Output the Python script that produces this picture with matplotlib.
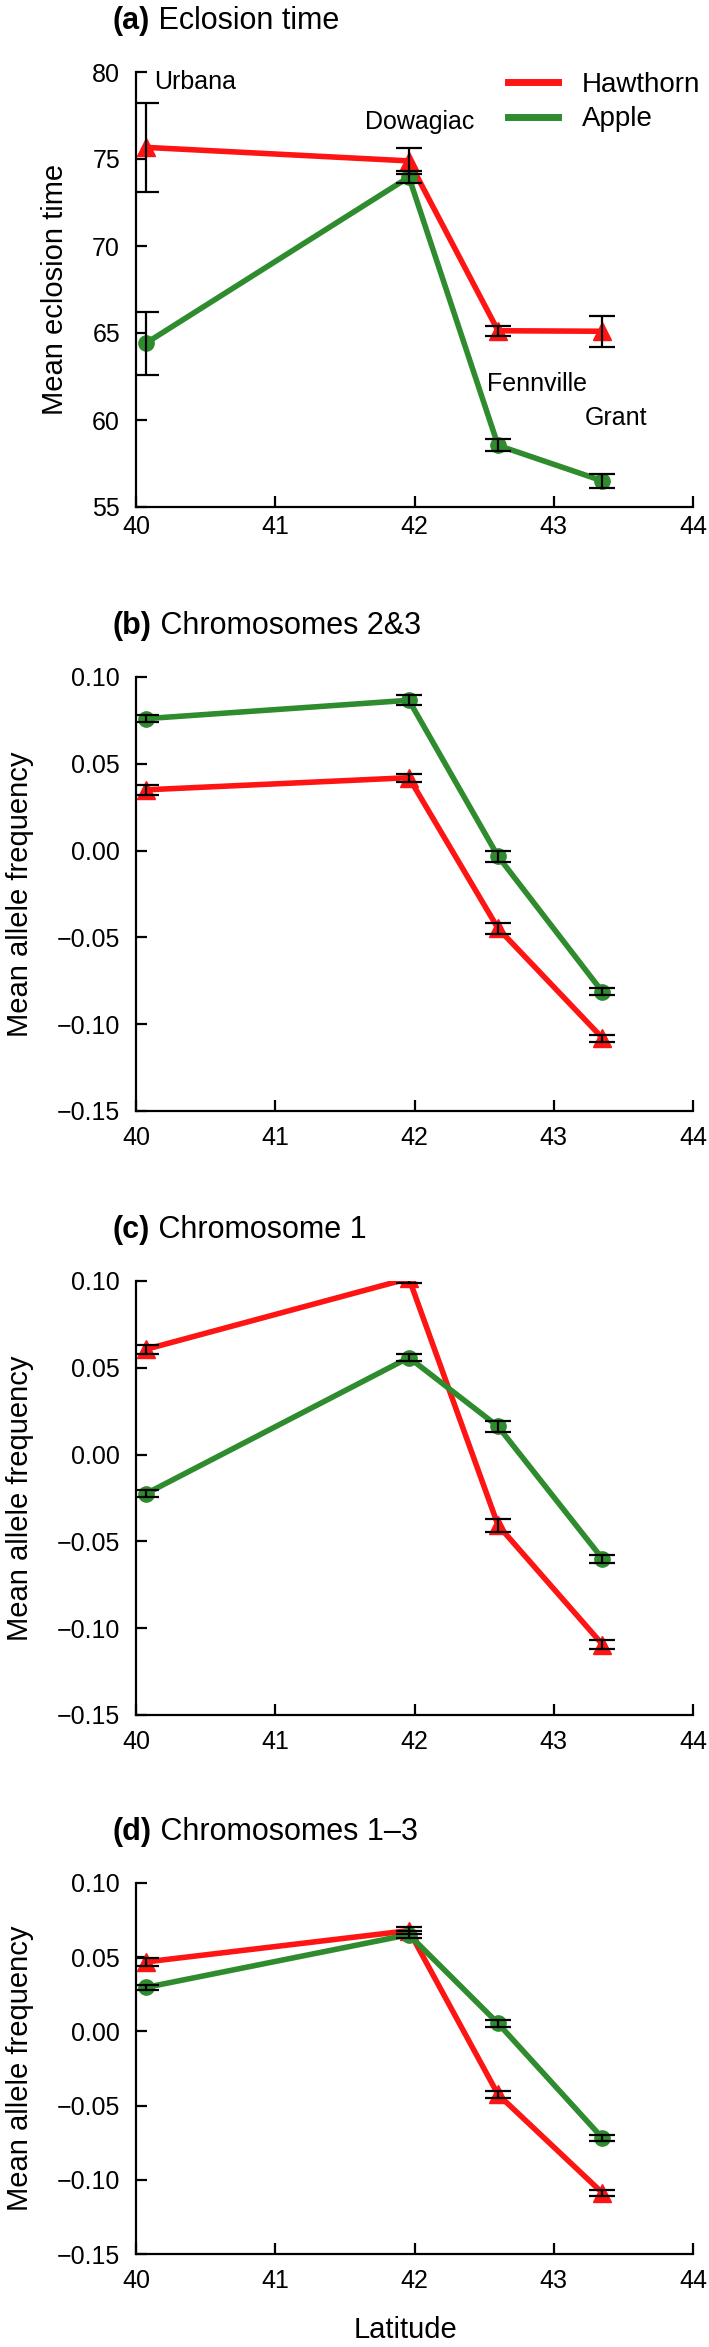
import matplotlib
matplotlib.use('Agg')
import matplotlib.pyplot as plt

plt.rcParams['font.family'] = ['Liberation Sans', 'DejaVu Sans']

# latitude of the four sites
lat = [40.07, 41.96, 42.60, 43.35]
sites = ['Urbana', 'Dowagiac', 'Fennville', 'Grant']

# (a) eclosion time
ecl_haw = [75.67, 74.89, 65.13, 65.10]
ecl_haw_se = [2.55, 0.74, 0.30, 0.88]
ecl_app = [64.41, 73.96, 58.54, 56.50]
ecl_app_se = [1.80, 0.36, 0.34, 0.41]

# (b) chromosomes 2&3
c23_haw = [0.035, 0.042, -0.0448, -0.108]
c23_haw_se = [0.0027, 0.0023, 0.0030, 0.0020]
c23_app = [0.076, 0.0866, -0.0033, -0.0814]
c23_app_se = [0.0020, 0.0030, 0.0033, 0.0020]

# (c) chromosome 1
c1_haw = [0.0606, 0.1015, -0.0407, -0.1094]
c1_haw_se = [0.0028, 0.0026, 0.0037, 0.0024]
c1_app = [-0.0226, 0.0559, 0.0162, -0.0600]
c1_app_se = [0.0020, 0.0022, 0.0030, 0.0024]

# (d) chromosomes 1-3
c13_haw = [0.0468, 0.0679, -0.0425, -0.1089]
c13_haw_se = [0.0027, 0.0025, 0.0025, 0.0020]
c13_app = [0.0296, 0.0652, 0.0054, -0.0719]
c13_app_se = [0.0020, 0.0023, 0.0023, 0.0022]

red = '#ff1414'
green = '#2e8b2e'

W, H = 709, 2347
fig = plt.figure(figsize=(W / 100, H / 100), dpi=100)

left = 136 / W
width = 557 / W


def make_axes(top_px, bottom_px):
    return fig.add_axes([left, 1 - bottom_px / H, width, (bottom_px - top_px) / H])


def panel_title(ax, top_px, tag, text):
    y = 1 - (top_px - 51) / H
    t = fig.text(113 / W, y, tag, fontsize=22, fontweight='bold', va='center', ha='left')
    ax.annotate(' ' + text, xy=(1, 0), xycoords=t, va='bottom', ha='left', fontsize=22,
                annotation_clip=False)


def draw(ax, haw, haw_se, app, app_se):
    ax.plot(lat, haw, color=red, lw=4, marker='^', ms=13, zorder=2, label='Hawthorn')
    ax.plot(lat, app, color=green, lw=4, marker='o', ms=11, zorder=3, label='Apple')
    ax.errorbar(lat, haw, yerr=haw_se, fmt='none', ecolor='k', elinewidth=1.6,
                capsize=9.5, capthick=1.6, zorder=4)
    ax.errorbar(lat, app, yerr=app_se, fmt='none', ecolor='k', elinewidth=1.6,
                capsize=9.5, capthick=1.6, zorder=4)
    ax.set_xlim(40, 44)
    ax.set_xticks([40, 41, 42, 43, 44])
    for s in ['top', 'right']:
        ax.spines[s].set_visible(False)
    for s in ['left', 'bottom']:
        ax.spines[s].set_linewidth(1.6)
    ax.tick_params(direction='in', length=8, width=1.6, labelsize=18)
    ax.tick_params(axis='y', pad=11.5)


# panel a
ax = make_axes(72, 507)
draw(ax, ecl_haw, ecl_haw_se, ecl_app, ecl_app_se)
ax.set_ylim(55, 80)
ax.set_yticks([55, 60, 65, 70, 75, 80])
ax.tick_params(axis='x', pad=6)
ax.text(-0.1454, 0.5, 'Mean eclosion time', rotation=90, fontsize=21,
        ha='center', va='center', transform=ax.transAxes)
ax.text(40.13, 79.43, sites[0], fontsize=18, ha='left', va='center')
ax.text(42.04, 77.13, sites[1], fontsize=18, ha='center', va='center')
ax.text(42.88, 62.07, sites[2], fontsize=18, ha='center', va='center')
ax.text(43.45, 60.1, sites[3], fontsize=18, ha='center', va='center')
ax.legend(loc='upper left', bbox_to_anchor=(0.668, 1.0), frameon=False, fontsize=20,
          handlelength=1.8, handletextpad=0.85, labelspacing=0.3, borderpad=0,
          borderaxespad=0)
leg = ax.get_legend()
for h in leg.legend_handles:
    h.set_marker('')
    h.set_linewidth(5)
panel_title(ax, 72, '(a)', 'Eclosion time')

# panels b-d
freq_ticks = [-0.15, -0.10, -0.05, 0.00, 0.05, 0.10]
freq_panels = [
    (677, 1111, '(b)', 'Chromosomes 2&3', c23_haw, c23_haw_se, c23_app, c23_app_se),
    (1281, 1715, '(c)', 'Chromosome 1', c1_haw, c1_haw_se, c1_app, c1_app_se),
    (1883, 2254, '(d)', 'Chromosomes 1\u20133', c13_haw, c13_haw_se, c13_app, c13_app_se),
]
for top, bot, tag, name, h, hse, a, ase in freq_panels:
    ax = make_axes(top, bot)
    draw(ax, h, hse, a, ase)
    ax.set_ylim(-0.15, 0.10)
    ax.set_yticks(freq_ticks)
    ax.set_yticklabels(['%.2f' % v if v >= 0 else '\u2212%.2f' % abs(v) for v in freq_ticks])
    ax.tick_params(axis='x', pad=11)
    ax.text(-0.208, 0.5, 'Mean allele frequency', rotation=90, fontsize=21,
            ha='center', va='center', transform=ax.transAxes)
    panel_title(ax, top, tag, name)

ax.text(0.483, -(2330 - 2254) / 371, 'Latitude', fontsize=21, ha='center', va='center',
        transform=ax.transAxes)

fig.savefig('out.png', dpi=100)
